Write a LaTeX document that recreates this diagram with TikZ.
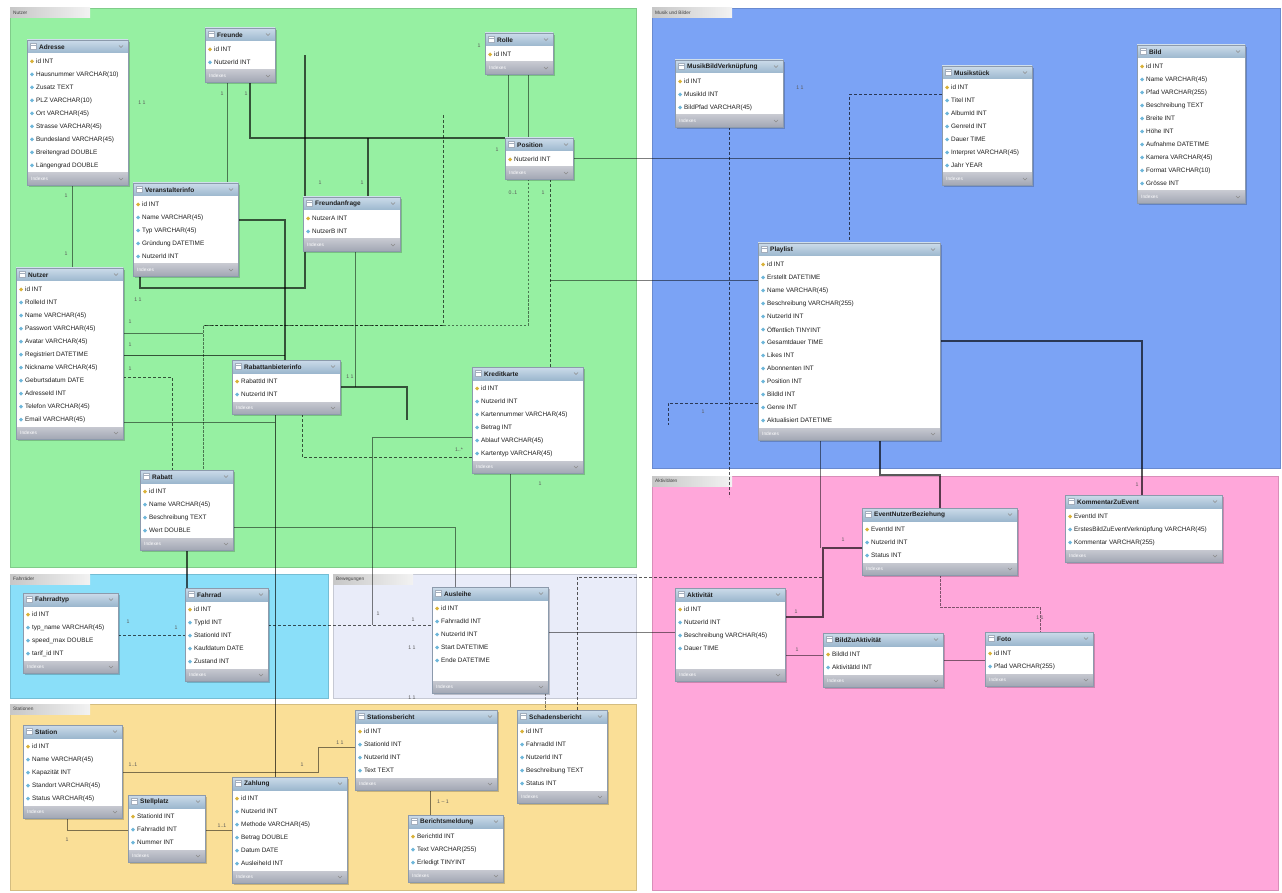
\documentclass[tikz,border=0pt]{standalone}
\usepackage{fontspec}
\setmainfont{Liberation Sans}
\usetikzlibrary{calc}
\pgfdeclarelayer{bg}
\pgfdeclarelayer{wires}
\pgfsetlayers{bg,wires,main}

\definecolor{lgreen}{HTML}{96F0A2}
\definecolor{lblue}{HTML}{7BA3F5}
\definecolor{lpink}{HTML}{FFA7DA}
\definecolor{lcyan}{HTML}{8ADFF9}
\definecolor{llav}{HTML}{E9ECF9}
\definecolor{lyell}{HTML}{FADF97}
\definecolor{ttop}{HTML}{CCDCEA}
\definecolor{tbot}{HTML}{9CB7CE}
\definecolor{ftop}{HTML}{C6C8D0}
\definecolor{fbot}{HTML}{A2A7B4}
\definecolor{tabedge}{HTML}{8C9AAC}
\definecolor{keyc}{HTML}{D9B23A}
\definecolor{colc}{HTML}{6FB7DA}

\newcommand\tabtitlefont{\fontsize{6.5}{7.5}\selectfont\bfseries}
\newcommand\tabrowfont{\fontsize{6.4}{7}\selectfont}
\newcommand\tabfootfont{\fontsize{4.8}{5}\selectfont}
\newcommand\cardfont{\fontsize{5.2}{5.2}\selectfont}

\tikzset{
  x=1pt, y=-1pt,
  tabframe/.style={rectangle, draw=tabedge, fill=white, inner sep=0pt, outer sep=0pt},
  wire/.style={draw=black, draw opacity=0.65, line cap=butt},
  idrel/.style={wire, line width=1.2pt},
  nidrel/.style={wire, line width=1pt, dash pattern=on 3pt off 2pt},
  thinrel/.style={wire, line width=0.5pt, draw opacity=0.5},
  thindash/.style={thinrel, dash pattern=on 2.5pt off 1.5pt},
  card/.style={font=\cardfont, text=black!65, inner sep=0.5pt},
}

% entity box: [extra blank rows]{name}{x}{y}{width}{title}{rows}
\newcommand\ertab[7][0]{%
  \xdef\nrows{0}%
  \foreach \rw [count=\k] in {#7}{\xdef\nrows{\k}}%
  \pgfmathsetmacro\tabh{28+13*(\nrows+#1)}%
  \fill[black, opacity=0.2] (#3+2,#4+2) rectangle ++(#5,\tabh);
  \node[tabframe, minimum width=#5pt, minimum height=\tabh pt, anchor=north west] (#2) at (#3,#4) {};
  \shade[top color=ttop, bottom color=tbot] (#2.north west) rectangle ($(#2.north east)+(0,13)$);
  \draw[tabedge!80, fill=white] ($(#2.north west)+(3,3.5)$) rectangle ++(6,6);
  \draw[tabedge!80] ($(#2.north west)+(3,5.5)$) -- ++(6,0);
  \node[anchor=west, font=\tabtitlefont, text=black!88, inner sep=0pt] at ($(#2.north west)+(12,6.8)$) {#6};
  \draw[black!45, line width=0.5pt] ($(#2.north east)+(-9,5.5)$) -- ++(2,2) -- ++(2,-2);
  \foreach \rw [count=\k] in {#7}{%
    \pgfmathsetmacro\yy{21.5+13*(\k-1)}%
    \ifnum\k=1 \def\icn{keyc}\else\def\icn{colc}\fi
    \fill[fill=\icn] ($(#2.north west)+(5,\yy)$) +(-2,0) -- +(0,-2) -- +(2,0) -- +(0,2) -- cycle;
    \node[anchor=west, font=\tabrowfont, text=black!88, inner sep=0pt] at ($(#2.north west)+(9,\yy)$) {\rw};
  }%
  \shade[top color=ftop, bottom color=fbot] ($(#2.south west)+(0,-12)$) rectangle (#2.south east);
  \node[anchor=west, font=\tabfootfont, text=white, inner sep=0pt] at ($(#2.south west)+(4,-6)$) {Indexes};
  \draw[black!45, line width=0.5pt] ($(#2.south east)+(-9,-7)$) -- ++(2,2) -- ++(2,-2);
  \draw[tabedge] (#2.north west) rectangle (#2.south east);
}

% coloured layer with its name tab: {x1}{y1}{x2}{y2}{colour}{label}
\newcommand\erlayer[6]{%
  \fill[#5] (#1,#2) rectangle (#3,#4);
  \draw[#5!85!black, line width=0.6pt] (#1,#2) rectangle (#3,#4);
  \shade[left color=black!22, right color=black!5] (#1,#2) rectangle (#1+80,#2+10);
  \node[anchor=west, font=\fontsize{4.8}{5}\selectfont, text=black!75, inner sep=0pt] at (#1+3,#2+5) {#6};
}

\begin{document}
\begin{tikzpicture}
\useasboundingbox (0,0) rectangle (1282,893);

% ---------------- entities ----------------
% Nutzer
\ertab{T1}{27}{40}{101}{Adresse}{id INT, Hausnummer VARCHAR(10), Zusatz TEXT, PLZ VARCHAR(10), Ort VARCHAR(45), Strasse VARCHAR(45), Bundesland VARCHAR(45), Breitengrad DOUBLE, Längengrad DOUBLE}
\ertab{T2}{205}{28}{70}{Freunde}{id INT, NutzerId INT}
\ertab{T3}{133}{183}{105}{Veranstalterinfo}{id INT, Name VARCHAR(45), Typ VARCHAR(45), Gründung DATETIME, NutzerId INT}
\ertab{T4}{303}{197}{97}{Freundanfrage}{NutzerA INT, NutzerB INT}
\ertab{T5}{485}{33}{68}{Rolle}{id INT}
\ertab{T6}{505}{138}{68}{Position}{NutzerId INT}
\ertab{T7}{16}{268}{107}{Nutzer}{id INT, RolleId INT, Name VARCHAR(45), Passwort VARCHAR(45), Avatar VARCHAR(45), Registriert DATETIME, Nickname VARCHAR(45), Geburtsdatum DATE, AdresseId INT, Telefon VARCHAR(45), Email VARCHAR(45)}
\ertab{T8}{232}{360}{108}{Rabattanbieterinfo}{RabattId INT, NutzerId INT}
\ertab{T9}{472}{367}{111}{Kreditkarte}{id INT, NutzerId INT, Kartennummer VARCHAR(45), Betrag INT, Ablauf VARCHAR(45), Kartentyp VARCHAR(45)}
\ertab{T10}{140}{470}{93}{Rabatt}{id INT, Name VARCHAR(45), Beschreibung TEXT, Wert DOUBLE}
% Musik und Bilder
\ertab{T11}{675}{60}{108}{MusikBildVerknüpfung}{id INT, MusikId INT, BildPfad VARCHAR(45)}
\ertab{T12}{942}{66}{90}{Musikstück}{id INT, Titel INT, AlbumId INT, GenreId INT, Dauer TIME, Interpret VARCHAR(45), Jahr YEAR}
\ertab{T13}{1137}{45}{108}{Bild}{id INT, Name VARCHAR(45), Pfad VARCHAR(255), Beschreibung TEXT, Breite INT, Höhe INT, Aufnahme DATETIME, Kamera VARCHAR(45), Format VARCHAR(10), Grösse INT}
\ertab{T14}{758}{243}{182}{Playlist}{id INT, Erstellt DATETIME, Name VARCHAR(45), Beschreibung VARCHAR(255), NutzerId INT, Öffentlich TINYINT, Gesamtdauer TIME, Likes INT, Abonnenten INT, Position INT, BildId INT, Genre INT, Aktualisiert DATETIME}
% Aktivitaeten
\ertab{T15}{862}{508}{155}{EventNutzerBeziehung}{EventId INT, NutzerId INT, Status INT}
\ertab{T16}{1065}{495}{157}{KommentarZuEvent}{EventId INT, ErstesBildZuEventVerknüpfung VARCHAR(45), Kommentar VARCHAR(255)}
\ertab[1]{T17}{675}{588}{110}{Aktivität}{id INT, NutzerId INT, Beschreibung VARCHAR(45), Dauer TIME}
\ertab{T18}{823}{633}{120}{BildZuAktivität}{BildId INT, AktivitätId INT}
\ertab{T19}{985}{632}{108}{Foto}{id INT, Pfad VARCHAR(255)}
% Fahrraeder / Bewegungen
\ertab{T20}{23}{593}{95}{Fahrradtyp}{id INT, typ\_name VARCHAR(45), speed\_max DOUBLE, tarif\_id INT}
\ertab{T21}{185}{588}{83}{Fahrrad}{id INT, TypId INT, StationId INT, Kaufdatum DATE, Zustand INT}
\ertab[1]{T22}{432}{587}{116}{Ausleihe}{id INT, FahrradId INT, NutzerId INT, Start DATETIME, Ende DATETIME}
% Stationen
\ertab{T23}{23}{725}{99}{Station}{id INT, Name VARCHAR(45), Kapazität INT, Standort VARCHAR(45), Status VARCHAR(45)}
\ertab{T24}{128}{795}{77}{Stellplatz}{StationId INT, FahrradId INT, Nummer INT}
\ertab{T25}{232}{777}{115}{Zahlung}{id INT, NutzerId INT, Methode VARCHAR(45), Betrag DOUBLE, Datum DATE, AusleiheId INT}
\ertab{T26}{355}{710}{142}{Stationsbericht}{id INT, StationId INT, NutzerId INT, Text TEXT}
\ertab{T27}{517}{710}{90}{Schadensbericht}{id INT, FahrradId INT, NutzerId INT, Beschreibung TEXT, Status INT}
\ertab{T28}{408}{815}{95}{Berichtsmeldung}{BerichtId INT, Text VARCHAR(255), Erledigt TINYINT}

% ---------------- layers ----------------
\begin{pgfonlayer}{bg}
  \fill[white] (0,0) rectangle (1282,893);
  \erlayer{10}{8}{636}{567}{lgreen}{Nutzer}
  \erlayer{652}{8}{1280}{468}{lblue}{Musik und Bilder}
  \erlayer{652}{476}{1278}{890}{lpink}{Aktivitäten}
  \erlayer{10}{574}{328}{698}{lcyan}{Fahrräder}
  \erlayer{333}{574}{636}{698}{llav}{Bewegungen}
  \erlayer{10}{704}{636}{890}{lyell}{Stationen}
\end{pgfonlayer}

% ---------------- relationships ----------------
\begin{pgfonlayer}{wires}
  \coordinate (f1) at (443,115);
  \coordinate (f2) at (729,497);
  \coordinate (f3) at (668,425);
  \coordinate (f4) at (820,548);
  % Nutzer
  \draw[thinrel] (T1.south -| 72,0) -- (T7.north -| 72,0);
  \draw[thinrel] (T2.south -| 227,0) -- (T3.north -| 227,0);
  \draw[idrel] (T2.south -| 250,0) |- (T6.north west);
  \draw[idrel] (T4.north -| 368,0) -- (368,138);
  \draw[thinrel] (T5.south -| 508,0) -- (T6.north -| 508,0);
  \draw[thinrel] (T5.south -| 528,0) -- (T6.north -| 528,0);
  \draw[thinrel] (T6.east) -- (T12.west |- T6.east);
  \draw[nidrel] (T6.south -| 550,0) -- (T9.north -| 550,0);
  \draw[thindash] (T6.south -| 528,0) -- (528,325) -- (203,325) -- (T10.north -| 203,0);
  \draw[nidrel] (f1) -- (443,325) -- (203,325);
  \draw[idrel] (T3.south -| 140,0) -- (140,288) -- (305,288) -- (305,55);
  \draw[idrel] (T3.east |- 0,220) -| (T8.north -| 285,0);
  \draw[thinrel] (T7.east |- 0,333) -- (203,333);
  \draw[wire, line width=0.8pt] (T7.east |- 0,355) -- (285,355);
  \draw[nidrel] (T7.east |- 0,377) -| (T10.north -| 172,0);
  \draw[thinrel] (T7.east |- 0,422) -- (275,422);
  \draw[thinrel] (T4.south -| 355,0) -- (355,387);
  \draw[idrel] (T8.east |- 0,387) -- (407,387) -- (407,420);
  \draw[nidrel] (T8.south -| 302,0) -- (302,457) -- (T9.west |- 0,457);
  \draw[thinrel] (T9.west |- 0,437) -| (372,625);
  \draw[thinrel] (T10.east |- 0,527) -| (T22.north -| 455,0);
  \draw[thinrel] (T9.south -| 510,0) -- (T22.north -| 510,0);
  \draw[idrel] (T10.south -| 187,0) -- (T21.north -| 187,0);
  \draw[wire, line width=0.8pt] (T8.south -| 275,0) -- (T25.north -| 275,0);
  \draw[thinrel] (T14.west |- 0,280) -- (550,280);
  % Fahrraeder / Bewegungen
  \draw[nidrel] (T20.east |- 0,635) -- (T21.west |- 0,635);
  \draw[nidrel] (T21.east |- 0,625) -- (T22.west |- 0,625);
  \draw[thinrel] (T22.east |- 0,632) -- (T17.west |- 0,632);
  \draw[thindash] (T22.south -| 545,0) -- (T27.north -| 545,0);
  \draw[nidrel] (T27.north -| 577,0) -- (577,577) -- (823,577);
  % Stationen
  \draw[thinrel] (T23.east |- 0,772) -- (318,772) -- (318,747) -- (T26.west |- 0,747);
  \draw[thinrel] (T23.south -| 67,0) |- (T24.west |- 0,830);
  \draw[thinrel] (T24.east |- 0,830) -- (T25.west |- 0,830);
  \draw[thinrel] (T26.south -| 430,0) -- (T28.north -| 430,0);
  % Musik und Bilder
  \draw[nidrel] (T12.west |- 0,95) -| (T14.north -| 849,0);
  \draw[nidrel] (T11.south -| 729,0) -- (f2);
  \draw[nidrel] (T14.west |- 0,403) -| (f3);
  \draw[idrel] (T14.east |- 0,341) -| (T16.north -| 1142,0);
  \draw[idrel] (T14.south -| 880,0) -- (880,475) -- (940,475) -- (T15.north -| 940,0);
  \draw[thinrel] (T14.south -| 820,0) -- (f4);
  % Aktivitaeten
  \draw[idrel] (T17.east |- 0,617) -- (823,617) -- (823,548) -- (T15.west |- 0,548);
  \draw[thindash] (T15.south -| 940,0) -- (940,607) -- (1040,607) -- (T19.north -| 1040,0);
  \draw[thinrel] (T17.east |- 0,655) -- (T18.west |- 0,655);
  \draw[thinrel] (T18.east |- 0,660) -- (T19.west |- 0,660);
\end{pgfonlayer}

% ---------------- cardinalities ----------------
\node[card] at (66,196) {1};
\node[card] at (66,254) {1};
\node[card] at (142,103) {1 1};
\node[card] at (222,94) {1};
\node[card] at (246,94) {1};
\node[card] at (320,183) {1};
\node[card] at (362,183) {1};
\node[card] at (479,46) {1};
\node[card] at (497,150) {1};
\node[card] at (513,193) {0..1};
\node[card] at (543,193) {1};
\node[card] at (138,300) {1 1};
\node[card] at (130,322) {1};
\node[card] at (130,345) {1};
\node[card] at (130,369) {1};
\node[card] at (350,377) {1 1};
\node[card] at (459,450) {1..*};
\node[card] at (540,484) {1};
\node[card] at (800,88) {1 1};
\node[card] at (1137,485) {1};
\node[card] at (843,540) {1};
\node[card] at (796,612) {1};
\node[card] at (797,650) {1};
\node[card] at (1040,618) {1 1};
\node[card] at (128,622) {1};
\node[card] at (176,628) {1};
\node[card] at (378,614) {1};
\node[card] at (413,620) {1};
\node[card] at (412,648) {1 1};
\node[card] at (412,698) {1 1};
\node[card] at (133,765) {1..1};
\node[card] at (302,765) {1};
\node[card] at (340,743) {1 1};
\node[card] at (222,826) {1..1};
\node[card] at (67,840) {1};
\node[card] at (443,802) {1 -- 1};
\node[card] at (703,412) {1};
\end{tikzpicture}
\end{document}
